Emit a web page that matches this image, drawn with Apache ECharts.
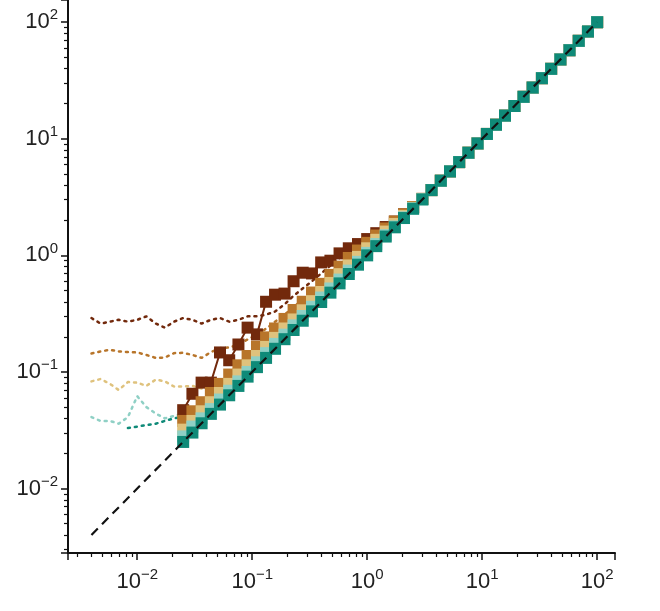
<!DOCTYPE html>
<html>
<head>
<meta charset="utf-8">
<script src="https://cdn.jsdelivr.net/npm/echarts@6/dist/echarts.min.js"></script>
<style>html,body{margin:0;padding:0;background:#fff}#chart{width:660px;height:611px}</style>
</head>
<body>
<div id="chart"></div>
<script>
// x positions of the square markers (0.08 decade steps from 0.025 to 100)
const squareX = [0.0251,0.0302,0.0363,0.0437,0.0525,0.0631,0.0759,0.0912,0.110,0.132,0.158,0.191,0.229,0.275,0.331,0.398,0.479,0.575,0.692,0.832,1.00,1.20,1.45,1.74,2.09,2.51,3.02,3.63,4.37,5.25,6.31,7.59,9.12,11.0,13.2,15.8,19.1,22.9,27.5,33.1,39.8,47.9,57.5,69.2,83.2,100];
// x positions of the dotted curves (0.08 decade steps from 0.004)
const dotX = [0.0040,0.0048,0.0058,0.0069,0.0083,0.0100,0.0120,0.0145,0.0174,0.0209,0.0251,0.0302,0.0363,0.0437,0.0525,0.0631,0.0759,0.0912,0.110,0.132,0.158,0.191,0.229,0.275,0.331,0.398,0.479,0.575,0.692,0.832,1.00];

const darkBrownSq = [0.047,0.065,0.081,0.081,0.147,0.126,0.172,0.24,0.21,0.40,0.46,0.47,0.60,0.71,0.70,0.87,0.90,1.04,1.15,1.25,1.38,1.55,1.75,1.95,2.25,2.6,3.05,3.63,4.37,5.25,6.31,7.59,9.12,11.0,13.2,15.8,19.1,22.9,27.5,33.1,39.8,47.9,57.5,69.2,83.2,100];
const brownSq = [0.038,0.046,0.055,0.066,0.079,0.095,0.114,0.137,0.165,0.198,0.236,0.285,0.34,0.40,0.48,0.57,0.68,0.80,0.95,1.10,1.28,1.48,1.70,1.95,2.25,2.6,3.05,3.63,4.37,5.25,6.31,7.59,9.12,11.0,13.2,15.8,19.1,22.9,27.5,33.1,39.8,47.9,57.5,69.2,83.2,100];
const tanSq = [0.032,0.038,0.046,0.055,0.066,0.079,0.095,0.114,0.137,0.164,0.196,0.236,0.282,0.338,0.405,0.485,0.58,0.69,0.82,0.97,1.15,1.36,1.60,1.86,2.18,2.56,3.05,3.63,4.37,5.25,6.31,7.59,9.12,11.0,13.2,15.8,19.1,22.9,27.5,33.1,39.8,47.9,57.5,69.2,83.2,100];
const lightTealSq = [0.028,0.034,0.040,0.048,0.058,0.069,0.083,0.100,0.121,0.145,0.174,0.209,0.251,0.302,0.362,0.435,0.52,0.62,0.74,0.88,1.05,1.25,1.49,1.77,2.12,2.53,3.02,3.63,4.37,5.25,6.31,7.59,9.12,11.0,13.2,15.8,19.1,22.9,27.5,33.1,39.8,47.9,57.5,69.2,83.2,100];
const darkTealSq = [0.0251,0.0302,0.0363,0.0437,0.0525,0.0631,0.0759,0.0912,0.110,0.132,0.158,0.191,0.229,0.275,0.331,0.398,0.479,0.575,0.692,0.832,1.00,1.20,1.45,1.74,2.09,2.51,3.02,3.63,4.37,5.25,6.31,7.59,9.12,11.0,13.2,15.8,19.1,22.9,27.5,33.1,39.8,47.9,57.5,69.2,83.2,100];

const darkBrownDot = [0.29,0.26,0.27,0.28,0.27,0.28,0.30,0.26,0.24,0.27,0.29,0.28,0.26,0.28,0.29,0.27,0.28,0.30,0.30,0.31,0.33,0.38,0.45,0.52,0.60,0.70,0.82,0.95,1.10,1.25,1.38];
const brownDot = [0.144,0.150,0.155,0.150,0.148,0.147,0.140,0.132,0.133,0.145,0.146,0.140,0.132,0.148,0.160,0.162,0.172,0.19,0.21,0.235,0.27,0.31,0.36,0.42,0.49,0.58,0.68];
const tanDot = [0.083,0.087,0.079,0.070,0.082,0.081,0.076,0.086,0.083,0.075,0.075,0.076,0.072,0.078,0.084];
const lightTealDot = [0.041,0.038,0.038,0.036,0.041,0.062,0.050,0.044,0.040,0.042,0.044];
const darkTealDot = [0.033,0.034,0.035,0.036,0.038,0.040,0.041];

const lineX = [0.004, 100];
const lineY = [0.004, 100];

const colors = { darkBrown: '#72290c', brown: '#b8752a', tan: '#dfc27d', lightTeal: '#8fd0c5', darkTeal: '#0f8a78' };

const zip = (xs, ys, offset = 0) => ys.map((y, i) => [xs[i + offset], y]);

function squareSeries(name, ys, color, z) {
    return {
        name, type: 'line', data: zip(squareX, ys), symbol: 'rect', symbolSize: 12,
        itemStyle: { color }, lineStyle: { color, width: 2 }, z
    };
}
function dotSeries(name, ys, color, offset) {
    return {
        name, type: 'line', data: zip(dotX, ys, offset || 0), symbol: 'none', smooth: false,
        lineStyle: { color, width: 2.5, type: [2, 5], cap: 'round' }, z: 1
    };
}

const supers = { '-': '\u2212' };
function powLabel(v) {
    const e = Math.log10(v);
    if (Math.abs(e - Math.round(e)) > 1e-6) return '';
    const r = Math.round(e);
    return '{b|10}{s|' + String(r).replace('-', '\u2212') + '}';
}

const axisCommon = {
    type: 'log', logBase: 10,
    axisLine: { lineStyle: { color: '#111', width: 2 } },
    axisTick: { show: true, length: 7, lineStyle: { color: '#111', width: 1.5 } },
    minorTick: { show: true, splitNumber: 9, length: 4, lineStyle: { color: '#111', width: 1.2 } },
    splitLine: { show: false },
    axisLabel: {
        formatter: powLabel, showMinLabel: false, showMaxLabel: true,
        rich: {
            b: { fontFamily: 'Liberation Sans', fontSize: 22, color: '#222' },
            s: { fontFamily: 'Liberation Sans', fontSize: 15, color: '#222', verticalAlign: 'top', padding: [0, 0, 14, 0] }
        }
    }
};

const chart = echarts.init(document.getElementById('chart'));
chart.setOption({
    animation: false,
    grid: { left: 68, right: 45, top: 0, bottom: 58 },
    xAxis: Object.assign({}, axisCommon, { min: 0.0025, max: 143, axisLabel: Object.assign({}, axisCommon.axisLabel, { margin: 14 }) }),
    yAxis: Object.assign({}, axisCommon, { min: 0.0028, max: 155, axisLabel: Object.assign({}, axisCommon.axisLabel, { margin: 10 }) }),
    series: [
        dotSeries('darkBrownDot', darkBrownDot, colors.darkBrown),
        dotSeries('brownDot', brownDot, colors.brown),
        dotSeries('tanDot', tanDot, colors.tan),
        dotSeries('lightTealDot', lightTealDot, colors.lightTeal),
        dotSeries('darkTealDot', darkTealDot, colors.darkTeal, 4),
        squareSeries('darkBrown', darkBrownSq, colors.darkBrown, 3),
        squareSeries('brown', brownSq, colors.brown, 4),
        squareSeries('tan', tanSq, colors.tan, 5),
        squareSeries('lightTeal', lightTealSq, colors.lightTeal, 6),
        squareSeries('darkTeal', darkTealSq, colors.darkTeal, 7),
        {
            name: 'identity', type: 'line', data: zip(lineX, lineY), symbol: 'none',
            lineStyle: { color: '#111', width: 2.2, type: [9, 6] }, z: 10
        }
    ]
});
</script>
</body>
</html>
